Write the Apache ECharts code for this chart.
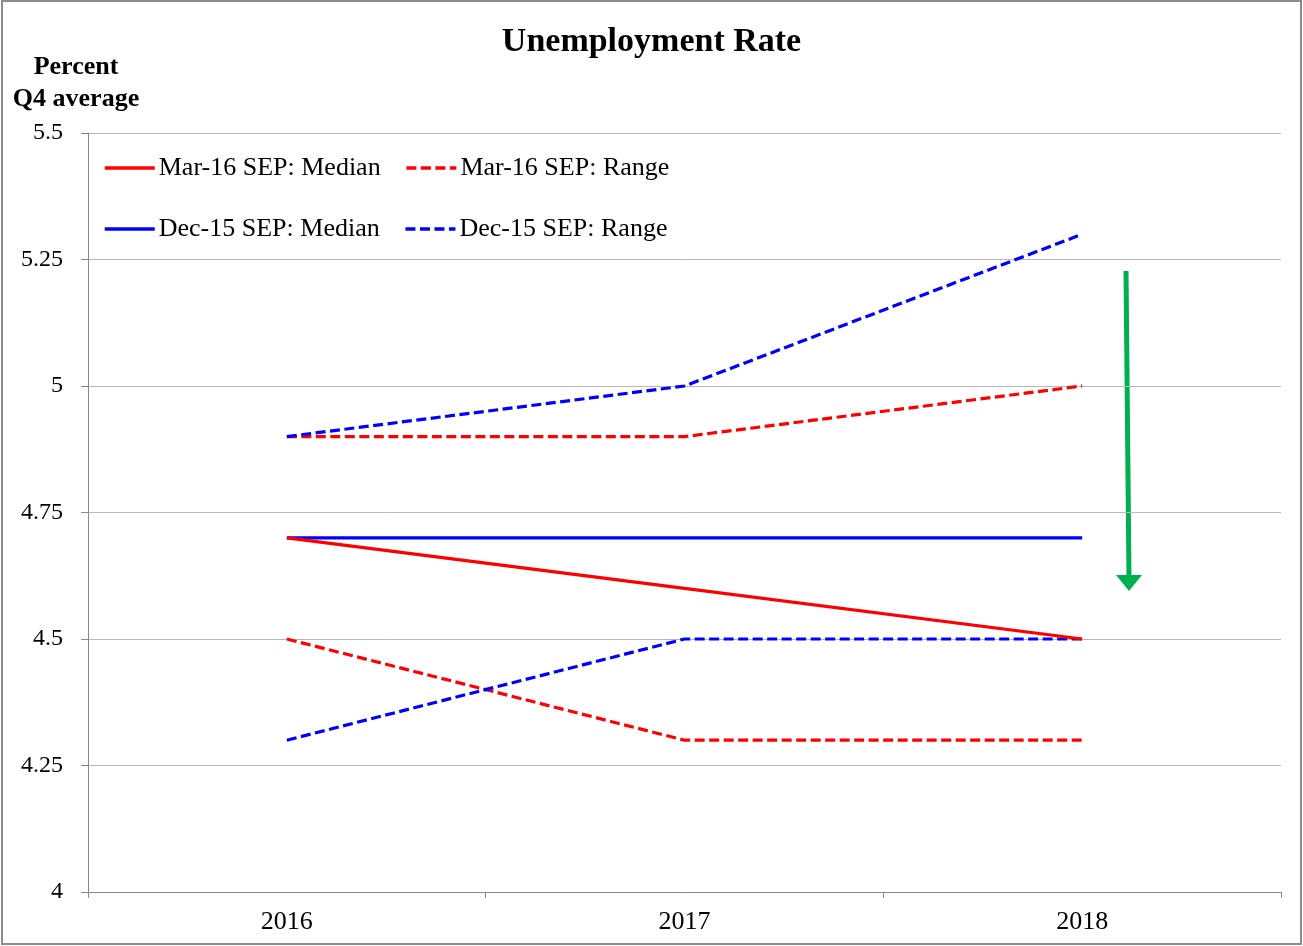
<!DOCTYPE html>
<html>
<head>
<meta charset="utf-8">
<script src="https://cdn.jsdelivr.net/npm/echarts@6/dist/echarts.min.js"></script>
<style>
html,body{margin:0;padding:0;background:#fff;}
#chart{width:1303px;height:946px;}
</style>
</head>
<body>
<div id="chart"></div>
<script>
const years = ['2016', '2017', '2018'];
const mar16Median = [4.7, 4.6, 4.5];
const mar16RangeHigh = [4.9, 4.9, 5.0];
const mar16RangeLow = [4.5, 4.3, 4.3];
const dec15Median = [4.7, 4.7, 4.7];
const dec15RangeHigh = [4.9, 5.0, 5.3];
const dec15RangeLow = [4.3, 4.5, 4.5];

const FONT = '"Liberation Serif", "DejaVu Serif", serif';
const RED = '#ff0000';
const BLUE = '#0000ff';
const DASH = [10, 4.5];

function lineSeries(name, data, color, dashed) {
  return {
    name: name,
    type: 'line',
    data: data,
    symbol: 'none',
    silent: true,
    lineStyle: { color: color, width: 3.2, type: dashed ? DASH : 'solid' },
    itemStyle: { color: color }
  };
}

const legendCommon = {
  left: 98, orient: 'horizontal',
  itemWidth: 50, itemHeight: 14, itemGap: 24,
  itemStyle: { opacity: 0 },
  lineStyle: { width: 3.5 },
  textStyle: { fontFamily: FONT, fontSize: 26, color: '#000', padding: [0, 0, 0, -1] }
};

const chart = echarts.init(document.getElementById('chart'));
chart.setOption({
  animation: false,
  backgroundColor: '#ffffff',
  title: {
    text: 'Unemployment Rate',
    left: 'center',
    top: 20,
    textStyle: { fontFamily: FONT, fontSize: 34, fontWeight: 'bold', color: '#000' }
  },
  legend: [
    Object.assign({}, legendCommon, {
      data: ['Mar-16 SEP: Median', 'Mar-16 SEP: Range'],
      top: 150
    }),
    Object.assign({}, legendCommon, {
      data: ['Dec-15 SEP: Median', 'Dec-15 SEP: Range'],
      top: 211
    })
  ],
  grid: { left: 88, right: 22, top: 133, bottom: 54, containLabel: false },
  xAxis: {
    type: 'category',
    data: years,
    boundaryGap: true,
    axisLine: { lineStyle: { color: '#888888', width: 1 } },
    axisTick: { show: true, length: 6, lineStyle: { color: '#888888' } },
    axisLabel: { fontFamily: FONT, fontSize: 26, color: '#000', margin: 17 },
    splitLine: { show: false }
  },
  yAxis: {
    type: 'value',
    min: 4, max: 5.5, interval: 0.25,
    name: 'Percent\nQ4 average',
    nameLocation: 'end',
    nameGap: 0,
    nameTextStyle: {
      fontFamily: FONT, fontSize: 26, fontWeight: 'bold', color: '#000',
      align: 'center', verticalAlign: 'bottom', lineHeight: 32,
      padding: [0, 24, 6, 0]
    },
    axisLine: { show: true, lineStyle: { color: '#888888', width: 1 } },
    axisTick: { show: true, length: 7, lineStyle: { color: '#888888' } },
    axisLabel: { fontFamily: FONT, fontSize: 24, color: '#000', margin: 25 },
    splitLine: { show: true, lineStyle: { color: '#b8b8b8', width: 1 } }
  },
  series: [
    lineSeries('Mar-16 SEP: Range', mar16RangeHigh, RED, true),
    lineSeries('Mar-16 SEP: Range', mar16RangeLow, RED, true),
    lineSeries('Dec-15 SEP: Range', dec15RangeHigh, BLUE, true),
    lineSeries('Dec-15 SEP: Range', dec15RangeLow, BLUE, true),
    lineSeries('Dec-15 SEP: Median', dec15Median, BLUE, false),
    lineSeries('Mar-16 SEP: Median', mar16Median, RED, false)
  ],
  graphic: [
    {
      type: 'rect',
      shape: { x: 2, y: 1, width: 1299, height: 943 },
      style: { fill: 'none', stroke: '#8c8c8c', lineWidth: 2 },
      silent: true, z: 100
    },
    {
      type: 'group',
      silent: true,
      z: 100,
      children: [
        {
          type: 'line',
          shape: { x1: 1126, y1: 271, x2: 1129, y2: 578 },
          style: { stroke: '#00b050', lineWidth: 5 }
        },
        {
          type: 'polygon',
          shape: { points: [[1116, 575], [1142, 575], [1129, 591]] },
          style: { fill: '#00b050' }
        }
      ]
    }
  ]
});
</script>
</body>
</html>
